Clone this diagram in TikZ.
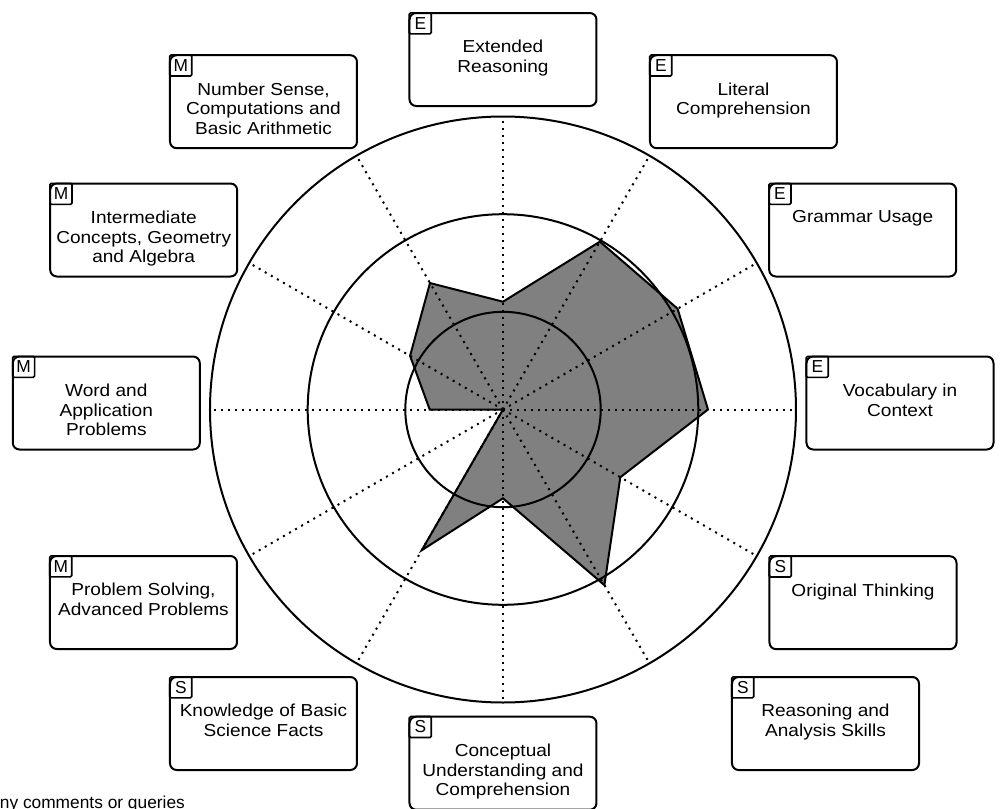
\documentclass[tikz,border=0pt]{standalone}
\usepackage{fontspec}
\setmainfont{Liberation Sans}
\newfontfamily\widesans{Liberation Sans}[FakeStretch=1.1]
\usetikzlibrary{positioning}

\begin{document}
\begin{tikzpicture}[x=0.75pt,y=0.75pt,
  skill/.style={draw,line width=1.5pt,rounded corners=5pt,minimum width=140.25pt,minimum height=69.75pt,inner sep=0pt},
  tag/.style={draw,line width=1.2pt,rounded corners=1pt,minimum width=16.5pt,minimum height=15.75pt,inner sep=0pt,anchor=north west,font=\fontsize{13}{15}\selectfont},
  caption/.style={align=center,inner sep=0pt,font=\widesans\fontsize{13}{14.8}\selectfont},
  spoke/.style={line width=1.5pt,dash pattern=on 1.5pt off 3.75pt}]
\useasboundingbox (-503,-398.5) rectangle (498,409.5);
% scores
\filldraw[fill=black!50,line width=1.5pt] (90:107.8)--(60:193.8)--(30:201.6)--(0:205)--(-30:135.5)--(-60:202.8)--(-90:88.8)--(-120:162.5)--(0,0)--(180:73.3)--(150:107.3)--(120:146)--cycle;
% rings and spokes
\draw[line width=1.5pt] (0,0) circle (97.7) (0,0) circle (195.3) (0,0) circle (293);
\foreach \a in {0,30,...,330}
  \draw[spoke] (0,0) -- (\a:293);
% english
\node[skill] (ext) at (0,350) {};
\node[tag] at (ext.north west) {E};
\node[caption, below=21pt of ext.north] {Extended\\Reasoning};
\node[skill] (lit) at (240.5,307.8) {};
\node[tag] at (lit.north west) {E};
\node[caption, below=21pt of lit.north] {Literal\\Comprehension};
\node[skill] (gram) at (359.7,179.5) {};
\node[tag] at (gram.north west) {E};
\node[caption, below=21pt of gram.north] {Grammar Usage};
\node[skill] (voc) at (397,6.5) {};
\node[tag] at (voc.north west) {E};
\node[caption, below=21pt of voc.north] {Vocabulary in\\Context};
% science
\node[skill] (orig) at (360,-193.2) {};
\node[tag] at (orig.north west) {S};
\node[caption, below=21pt of orig.north] {Original Thinking};
\node[skill] (reas) at (322.5,-314) {};
\node[tag] at (reas.north west) {S};
\node[caption, below=21pt of reas.north] {Reasoning and\\Analysis Skills};
\node[skill] (conc) at (0,-353.7) {};
\node[tag] at (conc.north west) {S};
\node[caption, below=21pt of conc.north] {Conceptual\\Understanding and\\Comprehension};
\node[skill] (know) at (-239.5,-314) {};
\node[tag] at (know.north west) {S};
\node[caption, below=21pt of know.north] {Knowledge of Basic\\Science Facts};
% maths
\node[skill] (prob) at (-359.5,-193) {};
\node[tag] at (prob.north west) {M};
\node[caption, below=21pt of prob.north] {Problem Solving,\\Advanced Problems};
\node[skill] (word) at (-396.7,6.5) {};
\node[tag] at (word.north west) {M};
\node[caption, below=21pt of word.north] {Word and\\Application\\Problems};
\node[skill] (inter) at (-359.3,179.5) {};
\node[tag] at (inter.north west) {M};
\node[caption, below=21pt of inter.north] {Intermediate\\Concepts, Geometry\\and Algebra};
\node[skill] (num) at (-239.5,307.8) {};
\node[tag] at (num.north west) {M};
\node[caption, below=21pt of num.north] {Number Sense,\\Computations and\\Basic Arithmetic};
% footer
\node[anchor=base west,inner sep=0pt,font=\fontsize{13}{15}\selectfont] (note) at (-513,-399) {any comments or queries};
\end{tikzpicture}
\end{document}
